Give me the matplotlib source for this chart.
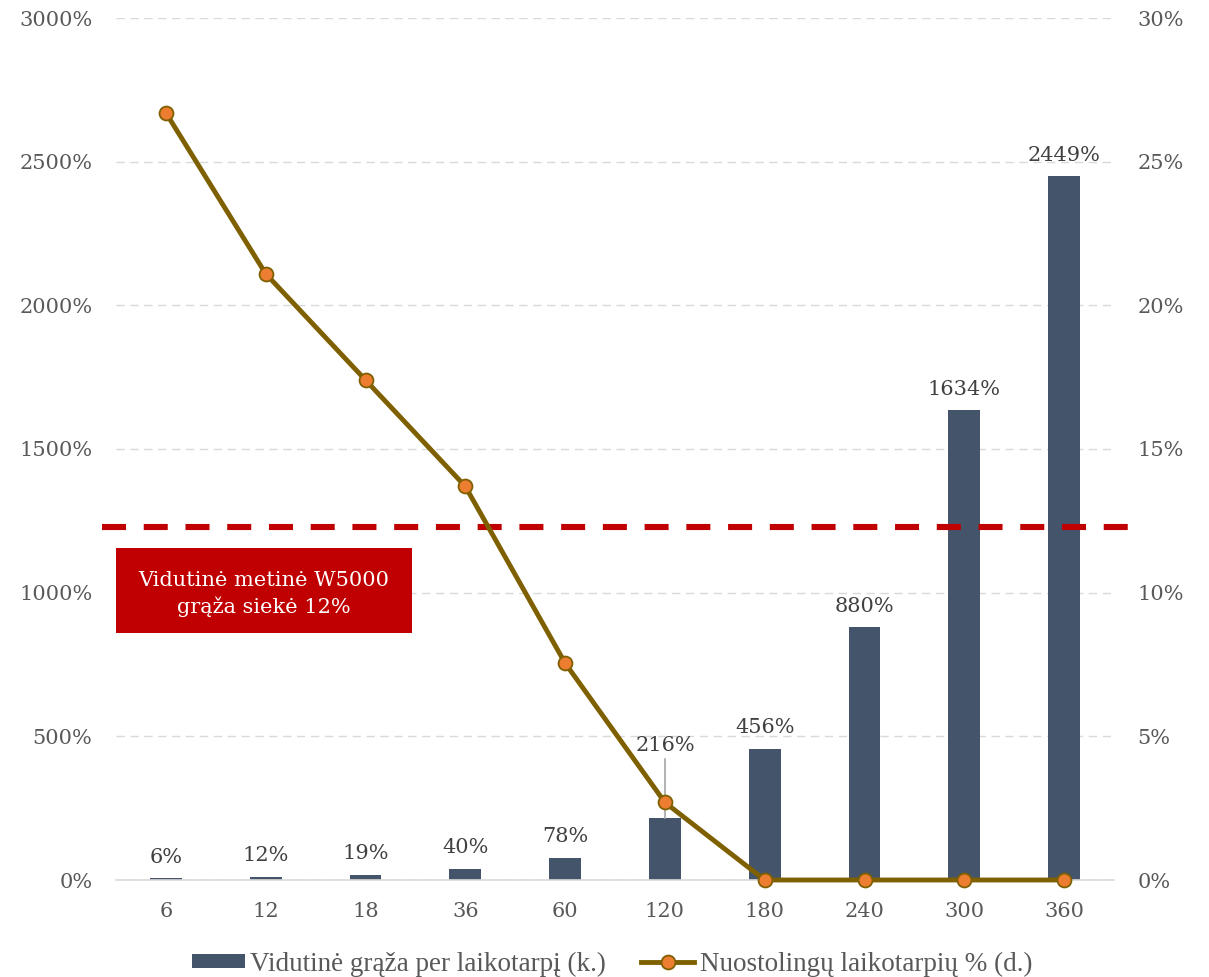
import matplotlib
matplotlib.use("Agg")
import matplotlib.pyplot as plt
from matplotlib.patches import Patch, Rectangle
from matplotlib.lines import Line2D
from matplotlib.ticker import FuncFormatter

categories = ["6", "12", "18", "36", "60", "120", "180", "240", "300", "360"]
avg_return = [6, 12, 19, 40, 78, 216, 456, 880, 1634, 2449]
loss_pct = [26.7, 21.1, 17.4, 13.7, 7.55, 2.7, 0, 0, 0, 0]
avg_annual_line = 12.3
box_text = "Vidutinė metinė W5000\ngrąža siekė 12%"
bar_label = "Vidutinė grąža per laikotarpį (k.)"
line_label = "Nuostolingų laikotarpių % (d.)"

plt.rcParams['font.family'] = ['DejaVu Serif']

fig = plt.figure(figsize=(12.09, 9.77), dpi=100)
ax = fig.add_axes([116/1209, 97/977, 998/1209, 862/977])
ax2 = ax.twinx()

x = list(range(len(categories)))
bar_color = "#44546A"
ax.bar(x, avg_return, width=0.32, color=bar_color, zorder=2)
ax.set_xlim(-0.5, len(categories) - 0.5)
ax.set_ylim(0, 3000)
ax.set_yticks(range(0, 3001, 500))
ax.yaxis.set_major_formatter(FuncFormatter(lambda v, p: f"{int(v)}%"))
ax.set_xticks(x)
ax.set_xticklabels(categories)

ax2.set_ylim(0, 30)
ax2.set_yticks(range(0, 31, 5))
ax2.yaxis.set_major_formatter(FuncFormatter(lambda v, p: f"{int(v)}%"))

tick_color = "#595959"
for a in (ax, ax2):
    for s in a.spines.values():
        s.set_visible(False)
    a.tick_params(length=0, labelsize=15, labelcolor=tick_color)
ax.tick_params(axis='y', pad=17)
ax2.tick_params(axis='y', pad=17)
ax.tick_params(axis='x', pad=16)
ax.spines['bottom'].set_visible(True)
ax.spines['bottom'].set_color("#D9D9D9")
ax.spines['bottom'].set_linewidth(1.2)
ax.grid(axis='y', color="#D9D9D9", linestyle=(0, (6, 4)), linewidth=1.0, zorder=0)
ax.set_axisbelow(True)

# bar labels
for i, v in enumerate(avg_return):
    if categories[i] == "120":
        ytxt = v + 220
        ax.text(i, ytxt, f"{v}%", ha='center', va='bottom', fontsize=15, color="#404040", zorder=5)
        ax.plot([i, i], [v, ytxt - 15], color="#A6A6A6", linewidth=1.2, zorder=3)
    else:
        ax.text(i, v + 40, f"{v}%", ha='center', va='bottom', fontsize=15, color="#404040", zorder=5)

# red dashed line (extends slightly beyond plot area on both sides)
ax2.plot([-0.0143, 1.019], [avg_annual_line / 30] * 2, transform=ax2.transAxes, color="#C00000",
         linewidth=4.4, linestyle=(0, (3.93, 2.9)), zorder=3, clip_on=False,
         dash_capstyle='butt')

# loss line
ax2.plot(x, loss_pct, color="#7F6000", linewidth=3.5, marker='o', markersize=10,
         markerfacecolor="#ED7D31", markeredgecolor="#7F6000", markeredgewidth=1.3, zorder=6,
         clip_on=False)

# red box
fig.patches.append(Rectangle((116/1209, 1 - 633/977), (412-116)/1209, (633-548)/977,
                             transform=fig.transFigure, facecolor="#C00000", edgecolor='none', zorder=4))
fig.text(264/1209, 1 - 594/977, box_text, ha='center', va='center', color='white', fontsize=15,
         linespacing=1.35, zorder=5)

handles = [Patch(facecolor=bar_color, edgecolor='none'),
           Line2D([0], [0], color="#7F6000", linewidth=3.5, marker='o', markersize=10,
                  markerfacecolor="#ED7D31", markeredgecolor="#7F6000", markeredgewidth=1.3)]
leg = fig.legend(handles, [bar_label, line_label], loc='center', bbox_to_anchor=(612/1209, 1 - 964/977),
                 ncol=2, frameon=False, handlelength=1.95, handleheight=0.45,
                 handletextpad=0.2, columnspacing=1.3, labelcolor=tick_color,
                 prop={'family': 'Liberation Serif', 'size': 19.5})

fig.savefig("out.png", dpi=100)
